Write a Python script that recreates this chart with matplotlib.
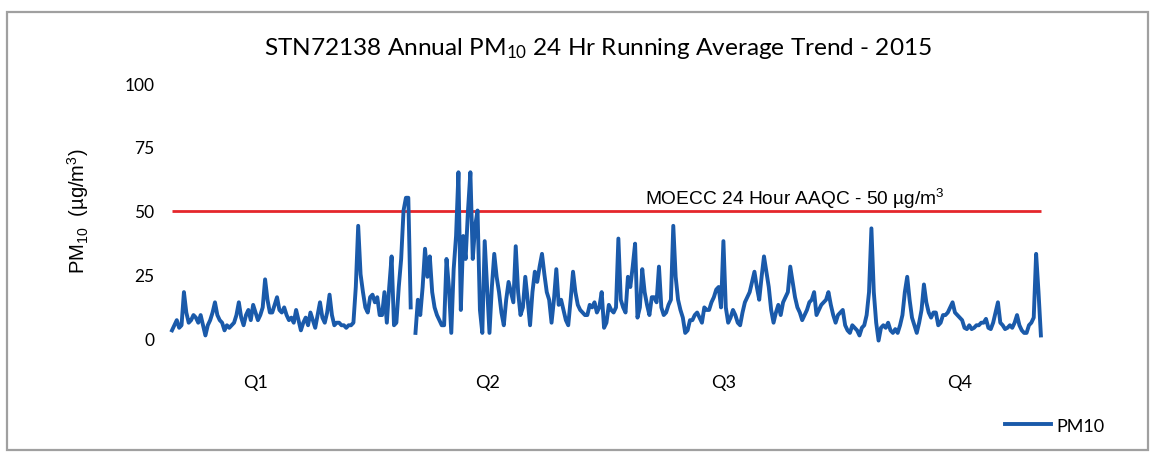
import numpy as np
import matplotlib
matplotlib.use("Agg")
import matplotlib.pyplot as plt
from matplotlib.patches import Rectangle

# PM10 24 hr running average, one value per day of 2015 (NaN = gap in record)
pm10 = [3, 5, 7, 4, 5, 18, 10, 6, 7, 9,
        8, 6, 9, 5, 1, 5, 7, 10, 14, 9,
        7, 6, 3, 5, 4, 5, 6, 9, 14, 8,
        5, 9, 11, 7, 13, 10, 7, 9, 12, 23,
        15, 10, 10, 13, 16, 11, 10, 12, 9, 7,
        8, 6, 11, 7, 3, 6, 8, 5, 10, 7,
        4, 9, 14, 8, 6, 10, 17, 9, 5, 6,
        6, 5, 5, 4, 5, 5, 6, 20, 44, 25,
        18, 12, 10, 16, 17, 14, 16, 9, 9, 18,
        6, 20, 32, 5, 6, 20, 31, 50, 55, 55,
        12, np.nan, 2, 15, 9, 20, 35, 24, 32, 18,
        12, 9, 7, 5, 5, 31, 20, 2, 27, 40,
        65, 11, 40, 31, 50, 65, 31, 44, 50, 11,
        2, 38, 20, 2, 20, 33, 24, 18, 10, 5,
        15, 22, 18, 14, 36, 18, 9, 12, 24, 15,
        5, 18, 26, 22, 28, 33, 25, 18, 15, 6,
        15, 27, 13, 15, 11, 7, 5, 15, 26, 18,
        13, 11, 10, 9, 9, 13, 12, 14, 10, 12,
        18, 4, 6, 13, 11, 10, 12, 39, 15, 12,
        10, 24, 20, 28, 37, 8, 12, 27, 18, 13,
        9, 16, 16, 14, 28, 12, 9, 10, 13, 15,
        44, 24, 15, 11, 8, 2, 3, 7, 7, 9,
        10, 8, 6, 12, 11, 11, 14, 16, 19, 20,
        12, 38, 12, 6, 8, 11, 9, 6, 5, 10,
        14, 16, 18, 22, 26, 20, 15, 24, 32, 26,
        20, 11, 6, 10, 13, 9, 14, 16, 18, 28,
        22, 16, 12, 10, 7, 9, 11, 14, 15, 18,
        9, 11, 13, 14, 15, 18, 13, 9, 6, 9,
        10, 11, 5, 3, 2, 5, 4, 3, 1, 4,
        5, 9, 18, 43, 18, 6, -1, 4, 5, 4,
        6, 3, 2, 3.5, 2, 5, 9, 18, 24, 15,
        8, 5, 2, 6, 11, 21, 14, 10, 8, 10,
        10, 5, 6, 9, 9, 10, 12, 14, 10, 9,
        8, 7, 4, 3.5, 5, 3.5, 4, 5, 5, 6,
        6, 7.5, 4, 3.5, 6, 10, 14, 6, 5, 3.5,
        4, 5, 4, 6, 9, 5, 3, 2, 2, 5,
        6, 8, 33, 18, 1]
days = np.arange(len(pm10))

aaqc = 50
y_ticks = [0, 25, 50, 75, 100]
quarters = ["Q1", "Q2", "Q3", "Q4"]
quarter_pos = [35, 132, 231, 330]

plt.rcParams["mathtext.default"] = "regular"

fig = plt.figure(figsize=(11.54, 4.56), dpi=100)
fig.patches.append(Rectangle((0.006, 0.012), 0.989, 0.96, transform=fig.transFigure,
                             fill=False, edgecolor="#a0a0a0", lw=1.6))

ax = fig.add_axes([0.1387, 0.2286, 0.7757, 0.6151])
ax.plot(days, pm10, color="#1a5aaa", lw=2.8, label="PM10", zorder=3)
ax.hlines(aaqc, days[0], days[-1], color="#e5262b", lw=2, zorder=2)

ax.set_xlim(-5, 370)
ax.set_ylim(-5, 105)
ax.set_yticks(y_ticks)
ax.set_yticklabels([str(v) for v in y_ticks], fontfamily="Lato", fontsize=12.5)
ax.set_xticks(quarter_pos)
ax.set_xticklabels(quarters, fontfamily="Lato", fontsize=13)
ax.tick_params(axis="y", length=0, pad=4)
ax.tick_params(axis="x", length=0, pad=17)
for s in ax.spines.values():
    s.set_visible(False)

ax.set_ylabel("PM$_{10}$  (µg/m$^3$)", fontfamily="Liberation Sans", fontsize=14.5, labelpad=24)

ax.text(198, 52.6, "MOECC 24 Hour AAQC - 50 µg/m$^3$", fontfamily="Liberation Sans",
        fontsize=13.8, ha="left", va="baseline")

fig.text(0.518, 0.893, "STN72138 Annual PM$_{10}$ 24 Hr Running Average Trend - 2015",
         fontfamily="Lato", fontsize=17.6, ha="center", va="center")

ax.legend(loc="center", bbox_to_anchor=(0.914, 0.064), bbox_transform=fig.transFigure,
          frameon=False, handlelength=2.5, handletextpad=0.3,
          prop={"family": "Lato", "size": 13})

fig.savefig("out.png", dpi=100)
